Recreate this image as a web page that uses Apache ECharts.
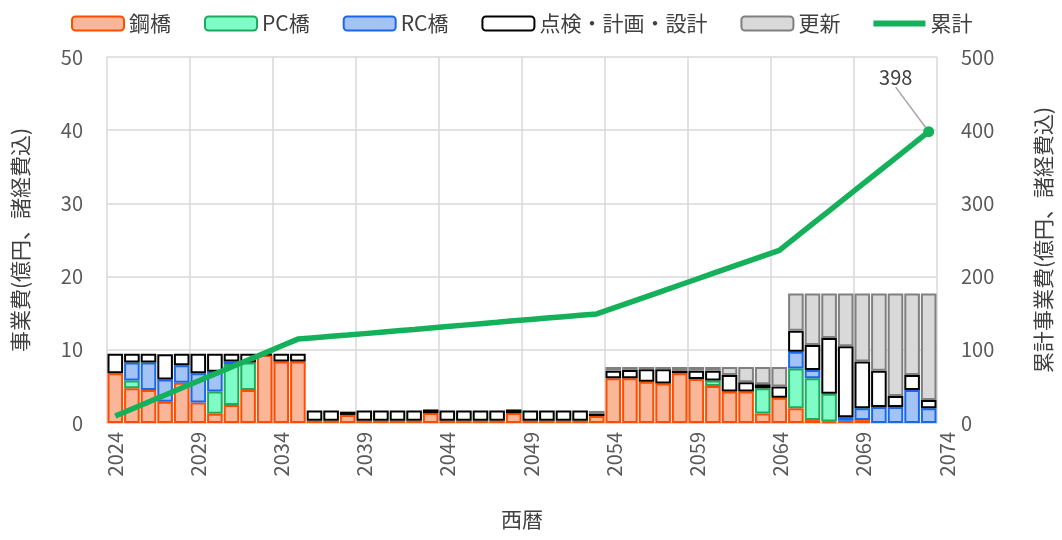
<!DOCTYPE html>
<html>
<head>
<meta charset="utf-8">
<script src="https://cdn.jsdelivr.net/npm/echarts@6/dist/echarts.min.js"></script>
<style>
html, body { margin: 0; padding: 0; background: #fff; }
#main { width: 1062px; height: 540px; }
</style>
</head>
<body>
<div id="main"></div>
<script>
// 年 (2024-2073)
const years = [2024, 2025, 2026, 2027, 2028, 2029, 2030, 2031, 2032, 2033,
  2034, 2035, 2036, 2037, 2038, 2039, 2040, 2041, 2042, 2043,
  2044, 2045, 2046, 2047, 2048, 2049, 2050, 2051, 2052, 2053,
  2054, 2055, 2056, 2057, 2058, 2059, 2060, 2061, 2062, 2063,
  2064, 2065, 2066, 2067, 2068, 2069, 2070, 2071, 2072, 2073];

// 事業費 (億円)
const steel = [6.8, 4.75, 4.5, 2.9, 5.5, 2.8, 1.25, 2.45, 4.5, 9.3,
  8.4, 8.4, 0.3, 0.3, 1.1, 0.3, 0.3, 0.3, 0.3, 1.35,
  0.3, 0.3, 0.3, 0.3, 1.35, 0.3, 0.3, 0.3, 0.3, 0.95,
  6.1, 6.1, 5.65, 5.4, 6.8, 6.0, 5.05, 4.3, 4.3, 1.3,
  3.45, 2.0, 0.4, 0.2, 0.3, 0.4, 0, 0, 0, 0];
const pc = [0, 1.05, 0, 0, 0, 0, 3.05, 5.6, 3.75, 0,
  0, 0, 0, 0, 0, 0, 0, 0, 0, 0,
  0, 0, 0, 0, 0, 0, 0, 0, 0, 0,
  0, 0, 0, 0, 0, 0, 0.75, 0, 0, 3.45,
  0, 5.45, 5.7, 3.8, 0, 0, 0, 0, 0, 0];
const rc = [0, 2.45, 3.75, 3.05, 2.4, 4.0, 2.7, 0.35, 0, 0,
  0, 0, 0, 0, 0, 0, 0, 0, 0, 0,
  0, 0, 0, 0, 0, 0, 0, 0, 0, 0,
  0, 0, 0, 0, 0, 0, 0, 0, 0, 0,
  0, 2.3, 1.15, 0, 0.5, 1.6, 2.2, 2.2, 4.5, 2.0];
const inspect = [2.65, 1.2, 1.2, 3.45, 1.55, 2.65, 2.45, 1.05, 1.2, 0.15,
  1.05, 1.05, 1.4, 1.4, 0.45, 1.4, 1.4, 1.4, 1.4, 0.5,
  1.4, 1.4, 1.4, 1.4, 0.5, 1.4, 1.4, 1.4, 1.4, 0.35,
  1.05, 1.15, 1.7, 1.95, 0.3, 1.15, 1.35, 2.25, 1.25, 0.55,
  1.55, 2.85, 3.4, 7.6, 9.7, 6.4, 4.95, 1.5, 2.05, 1.15];
const renew = [0, 0, 0, 0, 0, 0, 0, 0, 0, 0,
  0, 0, 0, 0, 0, 0, 0, 0, 0, 0,
  0, 0, 0, 0, 0, 0, 0, 0, 0, 0.35,
  0.5, 0.4, 0.3, 0.3, 0.55, 0.5, 0.5, 1.1, 2.1, 2.35,
  2.65, 5.1, 7.05, 6.1, 7.2, 9.3, 10.55, 14.0, 11.15, 14.55];

// 累計事業費 (億円)
const cumulative = [9.6, 19.1, 28.7, 38.2, 47.8, 57.3, 66.9, 76.4, 86.0, 95.5,
  105.1, 114.6, 116.5, 118.4, 120.2, 122.1, 124.0, 125.9, 127.8, 129.9,
  131.8, 133.7, 135.6, 137.5, 139.6, 141.5, 143.4, 145.3, 147.2, 149.0,
  156.9, 164.8, 172.7, 180.6, 188.5, 196.4, 204.3, 212.2, 220.1, 228.0,
  235.9, 253.9, 271.9, 289.9, 307.9, 325.9, 343.9, 361.9, 379.9, 398];

const FONT = '"Noto Sans CJK JP", "Noto Sans", sans-serif';
const GRID_LINE = { color: '#d9d9d9', width: 1.5 };

// 0 の区間は枠線を描かない
function barData(vals) {
  return vals.map(function (v) {
    return v ? v : { value: 0, itemStyle: { borderWidth: 0 } };
  });
}

function barSeries(name, vals, fill, border) {
  return {
    name: name,
    type: 'bar',
    stack: 'cost',
    barWidth: 15.6,
    data: barData(vals),
    itemStyle: { color: fill, borderColor: border, borderWidth: 2 }
  };
}

const last = cumulative.length - 1;
const lineData = cumulative.map(function (v, i) {
  if (i === last) {
    return {
      value: v,
      symbol: 'circle',
      symbolSize: 11,
      label: { show: true, formatter: String(Math.round(v)) }
    };
  }
  return v;
});

const chart = echarts.init(document.getElementById('main'));
chart.setOption({
  animation: false,
  textStyle: { fontFamily: FONT },
  legend: {
    top: 8,
    left: 66,
    itemWidth: 52,
    itemHeight: 14,
    itemGap: 33,
    textStyle: { fontSize: 21, color: '#404040', fontFamily: FONT },
    data: [
      '鋼橋', 'PC橋', 'RC橋', '点検・計画・設計', '更新',
      { name: '累計', icon: 'path://M0,0 L52,0 L52,6 L0,6 Z' }
    ]
  },
  grid: [
    { left: 107, right: 124, top: 57, bottom: 117 },
    // 目盛ラベル用 (年の区切り位置に合わせる)
    { left: 115, right: 115, top: 57, bottom: 117 }
  ],
  xAxis: [
    {
      type: 'category',
      gridIndex: 0,
      data: years,
      boundaryGap: true,
      name: '西暦',
      nameLocation: 'middle',
      nameGap: 86,
      nameTextStyle: { fontSize: 21, color: '#404040' },
      axisLine: { show: true, lineStyle: GRID_LINE },
      axisTick: { show: false },
      axisLabel: { show: false },
      splitLine: { show: false }
    },
    {
      type: 'value',
      gridIndex: 0,
      min: 2024,
      max: 2074,
      interval: 5,
      axisLine: { show: false },
      axisTick: { show: false },
      axisLabel: { show: false },
      splitLine: { show: true, lineStyle: GRID_LINE }
    },
    {
      type: 'value',
      gridIndex: 1,
      min: 2024,
      max: 2074,
      interval: 5,
      axisLine: { show: false },
      axisTick: { show: false },
      splitLine: { show: false },
      axisLabel: {
        rotate: 90,
        margin: 9,
        fontSize: 20,
        color: '#595959',
        showMinLabel: true,
        showMaxLabel: true,
        formatter: function (v) { return String(v); }
      }
    }
  ],
  yAxis: [
    {
      type: 'value',
      gridIndex: 0,
      min: 0,
      max: 50,
      interval: 10,
      name: '事業費(億円、諸経費込)',
      nameLocation: 'middle',
      nameRotate: 90,
      nameGap: 76,
      nameTextStyle: { fontSize: 21, color: '#404040' },
      axisLine: { show: false },
      axisTick: { show: false },
      axisLabel: { fontSize: 20, color: '#595959', margin: 24 },
      splitLine: { lineStyle: GRID_LINE }
    },
    {
      type: 'value',
      gridIndex: 0,
      min: 0,
      max: 500,
      interval: 100,
      name: '累計事業費(億円、諸経費込)',
      nameLocation: 'middle',
      nameRotate: 90,
      nameGap: 96,
      nameTextStyle: { fontSize: 21, color: '#404040' },
      axisLine: { show: false },
      axisTick: { show: false },
      axisLabel: { fontSize: 20, color: '#595959', margin: 24 },
      splitLine: { show: false }
    },
    {
      type: 'value',
      gridIndex: 1,
      min: 0,
      max: 50,
      show: false
    }
  ],
  series: [
    barSeries('鋼橋', steel, '#f9b699', '#ff4d00'),
    barSeries('PC橋', pc, '#80fcc6', '#1faa5c'),
    barSeries('RC橋', rc, '#a4c3f5', '#1a68e8'),
    barSeries('点検・計画・設計', inspect, '#ffffff', '#000000'),
    barSeries('更新', renew, '#d9d9d9', '#808080'),
    {
      name: '累計',
      type: 'line',
      yAxisIndex: 1,
      symbol: 'none',
      data: lineData,
      itemStyle: { color: '#14b05a' },
      lineStyle: { color: '#14b05a', width: 5.5 },
      label: { fontSize: 20, color: '#404040', position: 'top' },
      labelLine: { show: true, lineStyle: { color: '#a6a6a6', width: 1.5 } },
      labelLayout: function (p) {
        return p.dataIndex === last ? { dx: -33, dy: -34 } : {};
      },
      z: 5
    }
  ]
});
</script>
</body>
</html>
